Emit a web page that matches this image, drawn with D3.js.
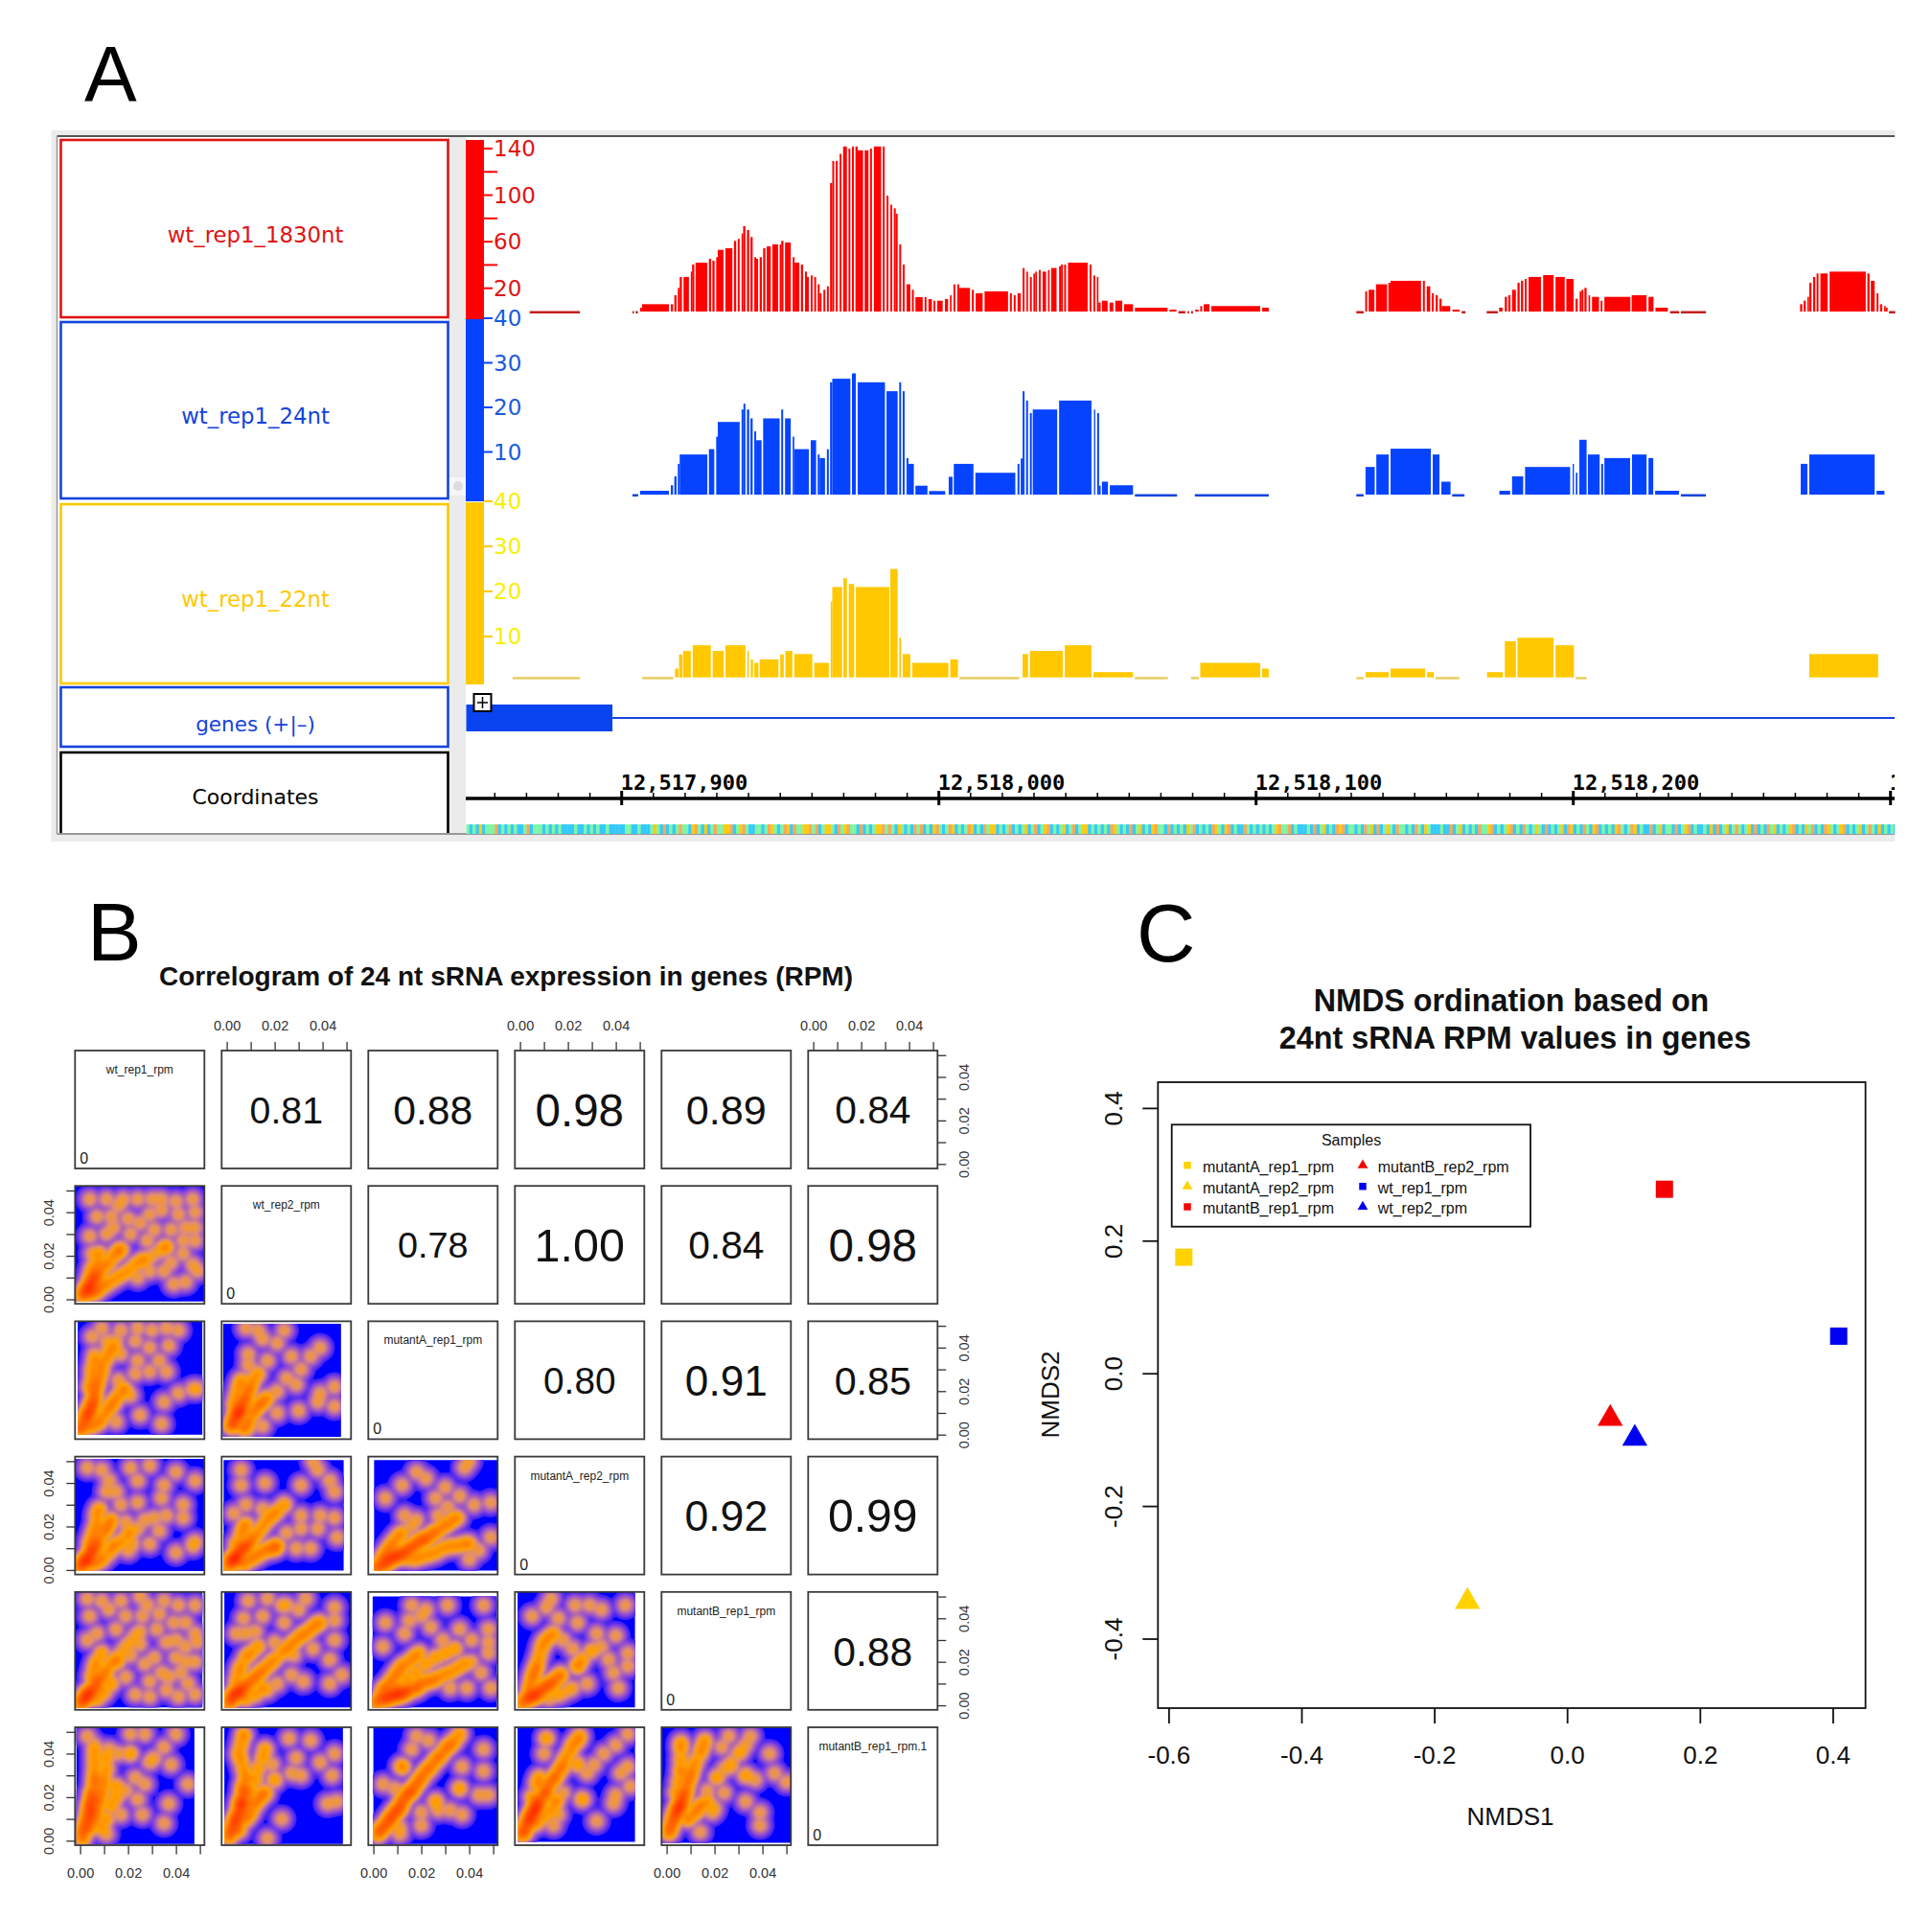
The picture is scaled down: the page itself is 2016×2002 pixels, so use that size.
<!DOCTYPE html>
<html><head><meta charset="utf-8">
<script src="https://cdn.jsdelivr.net/npm/d3@7"></script>
<style>html,body{margin:0;padding:0;background:#fff}svg{display:block}</style>
</head><body><svg id="c" width="2016" height="2002"></svg>
<script>
// ---------- Panel A: offsets are base pairs from 12,517,900 ; [start, end, value]
const genomeBase = 12517900;
const coordTicks = [12517900,12518000,12518100,12518200,12518300];
const redTicks = [140,120,100,80,60,40,20];
const redLabelled = [140,100,60,20];
const blueTicks = [40,30,20,10];
const yellowTicks = [40,30,20,10];
const trackNames = ["wt_rep1_1830nt","wt_rep1_24nt","wt_rep1_22nt","genes (+|–)","Coordinates"];
const redBars = [[-29,-13.2,0],[3.4,3.9,0],[4.4,5.1,0],[5.8,6.4,3.3],[6.4,14.9,6.3],[15.5,16.2,6.3],[16.6,17.3,14],[17.7,18.3,20.3],[18.3,19,29.7],[19.5,21.2,29.7],[21.8,22.2,34.3],[22.2,22.9,40.4],[23.3,27,42],[27.5,28.2,45.3],[28.6,29.3,43.7],[29.8,30.3,46.7],[30.3,32.1,53],[32.7,34.9,54.4],[35.4,36.1,60.7],[36.6,37.2,62.4],[37.8,38.3,67],[38.3,39,73.4],[39.5,40.2,70],[40.6,41.3,64],[41.8,42.4,46.7],[42.4,43,45.3],[43.5,44.2,46.7],[44.6,45.3,54.4],[45.7,47,56],[47.5,49.3,57.7],[49.8,50.3,57.7],[50.3,51,60.7],[51.5,53.3,59.3],[53.9,54.5,46.7],[54.5,56,42],[56.5,57.2,40.4],[57.8,58.4,34.3],[58.4,59,29.7],[59.6,60.2,31],[60.7,61.3,29.7],[61.8,62.4,23.4],[62.4,63,15.7],[63.6,64.2,18.7],[64.7,65.3,21.7],[65.7,66.4,110.4],[66.4,67,129.4],[67.5,68.1,129.4],[68.7,69.3,135.4],[69.8,71,141.8],[71.5,72.1,140],[72.6,73.2,141.8],[73.7,74.4,141.8],[74.4,76.1,138.5],[76.6,77.8,138.5],[78.3,78.9,140],[79.5,81.8,141.8],[82.3,82.9,141.8],[83.5,84.1,99.5],[84.7,85.3,91.8],[85.8,86.4,88.7],[86.4,87,84],[87.5,88.1,57.7],[88.6,89.2,40.4],[89.8,91,23.4],[91.5,92.1,18.7],[92.6,94.9,12.4],[95.5,96.1,12.4],[96.7,97.8,10.7],[98.3,98.9,9.3],[99.5,101.2,9.3],[101.9,102.9,10.7],[103.5,104,14],[104.6,105.2,23.4],[105.8,106.4,23.4],[106.4,109.8,20.3],[110.4,111,18.7],[111.6,113.8,15.7],[114.4,121.8,17.3],[122.4,123,15.7],[123.6,124.2,14],[124.8,125.8,15.7],[126.4,127,37.4],[127.6,128.1,34.3],[128.7,129.3,29.7],[129.8,130.3,32.7],[130.4,130.9,34.3],[131.5,132.1,35.7],[132.7,133.8,34.3],[134.4,134.9,35.7],[135.4,137.1,37.4],[137.9,138.5,39],[138.5,139.1,40.4],[139.5,140.1,40.4],[140.7,146.9,42],[147.5,148.1,40.4],[148.7,149.3,31],[149.8,150.3,29.7],[150.3,151,7.7],[151.4,153.2,9.3],[153.8,155,7.7],[155.6,157.8,9.3],[158.4,161.2,6.3],[161.8,172.1,3.3],[172.7,174.9,1.6],[175.5,177.7,0],[178.4,178.9,0],[179.5,180.1,0],[180.8,181.9,1.6],[182.4,183,4.7],[183.5,185.3,6.3],[185.9,201.3,4.7],[201.9,204,3.3],[231.6,233.9,0],[234.4,235,17.3],[235.5,237.3,18.7],[237.8,241.3,23.4],[241.7,242.4,24.7],[242.4,252,26.4],[252.6,253.2,26.4],[253.8,254.9,21.7],[255.4,256,15.7],[256.6,257.3,14],[257.8,258.5,11],[258.5,261.2,4.7],[261.9,264.2,1.6],[264.8,266,0],[272.7,276.2,0],[276.6,277.7,3.3],[278.4,279.1,12.6],[279.5,280.2,14],[280.7,281.9,18.7],[282.4,283.1,24.7],[283.5,284.2,26.4],[284.7,285.3,28],[285.9,289.8,29.7],[290.5,293.8,31.3],[294.4,297.3,29.7],[297.8,300.1,28],[300.7,301.4,11],[302,302.6,17.3],[302.6,303.2,18.7],[303.5,304.2,20.3],[304.8,305.3,14],[305.9,308.1,12.6],[308.6,309.2,9.3],[309.8,318,12.6],[318.4,323.1,14],[323.7,325.3,12.6],[325.9,329.8,3.3],[330.5,333.4,0],[333.9,341.8,0],[371.5,372.2,6.3],[372.6,373.3,9.3],[373.8,374.3,12.6],[374.4,375.1,24.7],[375.6,376.3,29.7],[376.7,377.3,32.7],[377.9,380.2,32.7],[380.8,392.2,34.3],[392.7,393.4,32.7],[393.8,395,26.4],[395.6,396.2,15.7],[396.7,397.4,6.3],[398,398.5,4.7],[398.5,399.1,3.3],[399.5,401.5,0]];
const blueBars = [[3.4,5.2,0],[5.8,14.9,0.86],[15.5,16.2,2.1],[16.6,17.3,4.1],[17.7,18.3,6.9],[18.3,27,9],[27.5,29.2,10.2],[29.8,30.3,13],[30.3,37.2,16.3],[37.8,38.4,19.1],[38.4,39,20.4],[39.5,40.2,19.1],[40.6,41.3,17.1],[41.8,42.4,14.2],[42.4,44.1,12.2],[44.6,49.8,17.1],[50.3,50.9,19.1],[51.5,53.3,17.1],[53.9,54.4,13],[54.4,59,10.2],[59.6,61.3,12.2],[61.8,62.4,9],[62.4,64.1,8.2],[64.7,65.3,10.2],[65.7,66.4,25.2],[66.4,72.1,26],[72.6,73.8,27.2],[74.4,83,25.2],[83.5,87,23.2],[87.5,88.1,25.2],[88.6,89.2,23.2],[89.8,90.4,8.2],[90.4,92.1,6.9],[92.6,96.4,2],[96.9,102,0.8],[103.1,104.3,4],[104.7,110.9,6.9],[111.5,124.1,4.9],[124.8,125.4,6.9],[125.8,126.4,8.1],[126.4,127,23.2],[127.5,128.1,21.1],[128.7,129.3,18.3],[129.6,137.3,19.1],[137.9,148.1,21.1],[148.9,149.3,19.1],[149.9,150.5,18.3],[150.5,151,2],[151.4,153.3,2.9],[153.9,161.2,2.1],[161.8,175.1,0],[180.7,204,0],[231.6,233.9,0],[234.5,237.4,6.2],[237.9,241.8,9],[242.4,255.1,10.3],[255.7,257.8,9],[258.4,261.3,2.9],[261.8,265.7,0],[276.7,280.1,0.86],[280.7,284.2,4.1],[284.8,299,6.2],[299.8,300.2,6.9],[300.8,301.3,4.9],[301.9,304.2,12.3],[304.6,308.3,9],[308.8,309.4,6.9],[309.8,317.9,8.2],[318.5,323.1,9],[323.7,325.2,8.2],[325.8,333.3,0.86],[333.9,341.8,0],[371.7,373.8,6.9],[374.4,395,9],[395.6,398.1,0.86]];
const yellowBars = [[-34.4,-13.1,0],[6.5,16.3,0],[16.8,17.9,2],[18.1,19.2,5.2],[19.4,21.8,6],[22.4,28.1,7.3],[28.7,32.2,6],[32.7,39,7.3],[39.6,40.1,6],[40.7,41.4,4.1],[41.8,43.1,3.3],[43.5,49.4,4.1],[50,51.1,5.2],[51.6,53.8,6],[54.4,60.1,5.3],[60.7,65.3,3.3],[65.9,66.4,17.2],[66.4,69.5,20.5],[69.9,71,22.5],[71.6,73.3,21.2],[73.8,84.4,20.5],[84.7,87,24.6],[87.5,88.1,9],[88.6,91,5.3],[91.6,103,3.3],[103.6,106,4.1],[106.5,125.4,0],[126.4,128.1,5.3],[128.7,139.1,6],[139.7,148.1,7.3],[148.7,161.2,1.2],[161.8,172.2,0],[179.5,182,0],[182.4,201.3,3.3],[201.9,204,2],[231.6,233.9,0],[234.5,241.8,1.2],[242.4,253.3,2],[253.9,256,1.2],[256.6,264.1,0],[272.8,277.8,1.2],[278.4,281.9,8.2],[282.4,293.8,9],[294.4,300.2,7.3],[300.8,304.2,0],[374.4,396.1,5.3]];
const geneExon = [-49,-2.9];
const seqRows = [
"gcgcycgggocgcgcgccgocgggcgcgcgccccgccgcgcgccgccccc",
"ggccgcccgygcocgcgoggcyogcycgoggyyocgyogccggcgoygcg",
"oycoggyyogocgyygcogyoggcocgcgyyogogcygcgcogocgcyog",
"cgoycgcgoycgcogyycgcgocgcgycgocgyocgcgycgocgyycgcg",
"cgcoygcgcocgycgcyoggcocgcgcygocgcgcoygcyocgccogcgc",
"gcgcgyoggocgcccgcocgycgcoyocggcgcogycocgygcoggcgco",
"gcygcccgccocgycgcgcoggyocgcgyocgcogcgygcocgcgycoyc",
"gcogcyocgcgcyogcgoycgccocgycggcocgyocgccgcycocgycg",
"ogcgycocgcogycgcgyocgcygocgcoygcgyocgcgycgogcycgcg",
"cgy"];
const seqColors = {c:"#35c9fb",g:"#7ff5a5",o:"#f9a855",y:"#fcca18"};

// ---------- Panel B : density points in RPM x 1000 as [x, y, weight]
const sampleNames = ["wt_rep1_rpm","wt_rep2_rpm","mutantA_rep1_rpm","mutantA_rep2_rpm","mutantB_rep1_rpm","mutantB_rep1_rpm.1"];
const corrValues = [[0,1,.81],[0,2,.88],[0,3,.98],[0,4,.89],[0,5,.84],[1,2,.78],[1,3,1.00],[1,4,.84],[1,5,.98],[2,3,.80],[2,4,.91],[2,5,.85],[3,4,.92],[3,5,.99],[4,5,.88]];
const cellTicks = [0,10,20,30,40,50];
const cellLabelled = [0,20,40];
const d21 = [[4,46],[11,46],[18,46],[24,46],[34,46],[47,46],[16,43],[7,38],[13,38],[34,41],[41,39],[48,33],[21,30],[25,35],[29,39],[4,29],[11,30],[31,32],[35,24],[43,27],[48,27],[47,16],[49,13],[5,21],[27,18],[35,13],[29,13],[24,10],[39,7],[44,8],[28,27],[38,32],[14,33],[20,37],[30,46],[40,45],[44,33],[38,17],[43,21],[48,40],
 [1,2,3],[2,3,4],[3,5,5],[4,6,5],[5,8,4],[6,10,3],[7,11,3],[8,13,2],[10,15,2],[12,17,2],[14,20,2],[16,22,2],[17,23,2],[5,3,3],[7,4,3],[9,6,2],[11,7,2],[14,9,2],[17,11,2],[20,13,2],[23,16,2],[26,18,2],[30,20,1],[33,22,1],[36,24,2],[4,10,2],[5,14,2],[7,17,2],[8,21,2]];
const d31 = [[9,49],[17,48],[24,49],[30,48],[36,49],[41,48],[5,45],[11,43],[23,43],[29,40],[37,41],[17,37],[24,34],[33,34],[36,29],[29,29],[16,25],[23,28],[19,20],[41,19],[47,21],[49,21],[35,15],[25,9],[34,5],[15,6],[21,18],
 [0,2,3],[1,4,4],[2,7,4],[3,9,5],[4,11,6],[5,14,6],[6,17,4],[6,20,3],[7,23,3],[8,26,2],[9,29,2],[9,32,2],[11,35,2],[12,38,2],[14,40,2],[15,43,1],[4,22,2],[5,26,2],[5,30,2],[6,34,2],[6,37,1],[5,4,3],[8,6,3],[10,9,2],[12,12,3],[14,15,3],[16,18,2],[18,21,2]];
const d32 = [[8,49],[13,48],[24,48],[15,44],[21,42],[39,40],[35,36],[27,36],[17,34],[9,37],[9,32],[31,30],[25,26],[29,23],[21,20],[39,19],[45,22],[38,15],[45,13],[30,11],[21,10],[15,4],[9,3],
 [2,4,4],[3,6,5],[4,9,6],[5,10,6],[6,12,6],[7,15,4],[8,17,3],[9,20,3],[10,22,2],[11,25,2],[13,28,2],[3,14,2],[4,18,2],[5,22,2],[6,25,2],[7,3,3],[9,6,3],[11,10,3],[13,13,3],[15,15,3],[17,17,2]];
const d41 = [[3,47],[9,46],[21,47],[29,48],[40,45],[48,41],[12,41],[24,41],[35,39],[34,33],[17,30],[24,31],[43,30],[43,24],[31,24],[36,25],[21,18],[33,18],[29,12],[22,12],[40,8],[47,11],[48,13],[15,36],[11,36],[19,22],[20,9],
 [0,1,3],[1,3,4],[2,4,5],[3,5,5],[4,7,5],[5,9,4],[6,10,3],[7,12,3],[8,14,2],[10,17,2],[11,19,2],[12,21,2],[13,23,2],[4,12,2],[5,15,2],[6,18,2],[7,21,2],[7,25,2],[8,28,2],[6,3,3],[9,5,3],[12,8,2],[14,11,3],[17,13,2],[20,16,2],[24,19,1],[27,23,1]];
const d42 = [[6,46],[6,39],[16,40],[31,39],[38,46],[36,50],[43,41],[45,36],[8,30],[15,28],[3,26],[31,25],[39,25],[45,24],[31,19],[38,19],[25,17],[46,15],[29,10],[35,10],[20,10],
 [1,2,3],[2,4,5],[3,5,6],[4,6,6],[5,8,5],[7,10,5],[8,11,4],[10,13,3],[11,15,2],[13,17,2],[15,20,2],[17,23,2],[19,25,2],[21,27,2],[24,30,2],[4,12,2],[6,16,2],[7,19,2],[8,21,2],[7,3,3],[10,5,3],[13,7,3],[16,9,3],[19,10,3],[21,11,3]];
const d43 = [[18,45],[22,42],[38,47],[40,50],[12,39],[30,38],[5,33],[26,33],[36,34],[31,29],[49,31],[42,30],[27,25],[13,25],[18,23],[49,15],[44,9],[40,5],[16,20],
 [1,1,3],[3,2,4],[5,3,5],[7,5,6],[9,6,6],[11,7,5],[13,8,5],[15,10,4],[17,11,4],[19,13,4],[21,14,4],[23,15,3],[25,17,3],[27,18,2],[29,20,2],[31,21,2],[33,23,2],[35,24,2],[4,6,3],[6,9,3],[8,12,3],[10,15,2],[12,17,2],[14,5,1],[17,5,2],[20,6,2],[23,7,2],[26,8,2],[29,10,2],[32,11,2],[35,11,2],[38,12,2],[40,12,2]];
const d51 = [[3,49],[9,48],[17,48],[25,50],[41,46],[48,46],[4,41],[12,44],[19,41],[33,42],[39,38],[48,33],[7,33],[15,35],[32,35],[3,30],[36,29],[44,27],[49,29],[21,23],[31,22],[40,22],[48,20],[19,13],[27,19],[29,11],[36,7],[45,10],[48,5],[23,5],[29,4],[41,4],[16,20],[28,46],[35,48],[44,38],[26,41],[40,30],[34,15],[42,15],[25,28],[37,13],[44,20],
 [0,0,2],[1,2,4],[2,3,5],[3,5,6],[4,6,5],[6,8,4],[7,10,3],[8,12,3],[10,14,2],[11,16,2],[13,19,2],[15,21,2],[17,24,1],[19,27,1],[21,29,1],[23,32,1],[25,34,1],[5,13,2],[6,17,2],[7,20,2],[9,24,2],[7,3,2],[10,6,2],[13,10,2]];
const d52 = [[9,48],[17,49],[23,46],[33,49],[45,45],[45,39],[7,40],[15,41],[24,38],[4,33],[8,33],[20,29],[45,30],[43,21],[48,14],[43,10],[28,23],[36,26],[32,11],[27,14],[21,10],[17,7],[12,34],[30,44],[25,46],
 [1,1,3],[2,3,5],[3,5,6],[5,6,6],[6,7,5],[8,9,4],[10,11,3],[12,13,3],[14,15,3],[16,17,2],[18,19,2],[20,21,2],[23,24,2],[25,26,2],[27,28,2],[29,30,2],[31,32,2],[33,33,2],[35,35,2],[37,37,2],[39,38,2],[4,11,2],[5,15,2],[6,18,2],[8,22,2],[10,24,2],[13,27,2],[8,3,2],[12,5,2],[15,8,2]];
const d53 = [[16,46],[22,44],[31,46],[46,46],[5,38],[15,39],[20,41],[36,35],[48,35],[13,33],[29,30],[48,29],[41,30],[48,24],[45,15],[49,8],[32,8],[39,8],[4,27],[24,36],
 [1,1,3],[3,3,4],[5,3,5],[7,4,6],[9,5,6],[11,5,6],[13,6,5],[15,7,4],[18,8,4],[20,10,3],[23,11,3],[26,12,3],[29,14,2],[32,15,2],[35,17,2],[38,19,2],[41,20,1],[4,7,3],[6,9,3],[8,12,3],[10,15,3],[12,18,3],[15,20,2],[17,22,2],[19,24,2],[10,8,2],[14,12,2],[18,15,2],[22,19,2],[26,22,2],[30,24,2],[34,26,2]];
const d54 = [[13,49],[5,41],[23,46],[29,46],[34,44],[44,46],[40,32],[22,26],[34,27],[45,24],[45,18],[39,15],[41,8],[37,21],[28,10],[22,8],[15,5],[18,30],[24,38],[16,40],[11,45],[32,33],
 [1,1,3],[3,3,5],[5,4,6],[7,5,6],[9,7,5],[11,9,4],[13,10,4],[15,12,3],[17,14,3],[4,8,3],[5,12,3],[6,15,3],[7,18,3],[8,22,2],[9,26,2],[10,29,2],[12,31,2],[14,33,2],[26,21,2],[24,18,3],[30,25,2],[12,3,1],[17,5,1],[20,7,1]];
const d61 = [[6,44],[3,48],[21,49],[27,49],[21,40,2],[29,36],[38,35],[40,49],[35,43],[31,38],[16,40],[27,26],[19,23],[24,19],[45,26],[37,17],[35,8],[26,12],[11,3],[23,29],[17,12],
 [1,1,3],[1,4,4],[2,7,4],[3,10,5],[4,13,6],[4,16,6],[5,19,5],[5,22,4],[6,26,3],[6,29,3],[6,33,2],[6,37,2],[6,41,2],[4,6,3],[6,10,3],[7,14,3],[8,18,3],[9,22,3],[10,26,2],[10,29,2],[11,33,2],[11,38,2],[12,42,1],[9,6,2],[11,10,2],[13,16,2],[15,20,2],[15,25,2]];
const d62 = [[7,49],[26,47],[35,46],[45,40],[39,36],[44,30],[31,30],[20,28,2],[27,31],[19,35],[29,38],[42,17],[46,18],[17,1],[23,10],
 [1,2,4],[2,5,5],[3,8,5],[4,10,6],[5,13,6],[6,16,6],[6,18,6],[7,22,5],[7,25,3],[8,29,3],[7,33,2],[6,37,2],[5,40,2],[6,44,2],[7,48,2],[5,5,3],[8,10,3],[10,13,3],[12,17,3],[14,20,3],[16,22,3],[9,18,2],[10,23,2],[12,28,2],[13,33,2],[15,38,2],[16,42,2]];
const d63 = [[18,48],[23,46],[16,42],[46,42],[37,34],[46,32],[36,24,2],[48,21],[44,21],[26,18,2],[12,34,3],[4,26],[9,24],[20,13],[20,7],[27,14],[32,14],[37,12],[11,3],[11,6],
 [2,3,3],[3,5,4],[5,7,5],[7,10,7],[9,13,6],[11,15,5],[12,18,5],[14,21,5],[16,23,5],[18,26,4],[20,29,4],[22,32,3],[24,34,3],[26,37,3],[28,39,3],[30,42,3],[32,44,3],[34,46,2],[36,49,2]];
const d64 = [[11,47,2],[10,40],[28,31],[40,44],[35,40],[45,49],[31,35],[42,31],[46,25],[40,21],[39,17],[32,9],[26,19,2],[24,35,2],[16,12],[14,7],[45,34],
 [1,3,4],[2,5,5],[3,8,5],[4,10,6],[5,12,6],[6,14,7],[7,16,6],[8,18,5],[10,21,4],[11,23,4],[12,26,3],[14,28,3],[15,30,3],[17,33,3],[18,35,2],[19,38,2],[21,41,2],[22,44,2],[24,46,2],[25,48,2],[7,8,2],[10,11,2],[13,14,2],[15,18,3],[18,22,1],[5,20,2],[7,26,2],[8,29,2]];
const d65 = [[26,48],[35,48],[43,40],[31,41],[23,43],[45,31],[50,27],[33,30,2],[24,22],[17,23],[37,28],[39,13],[39,7],[33,18],[19,13],[14,4],[27,34],
 [1,4,4],[2,7,4],[3,10,5],[4,13,6],[5,15,6],[6,17,7],[7,20,5],[8,23,4],[9,27,3],[10,30,3],[11,33,2],[12,36,2],[14,40,2],[15,43,2],[16,46,2],[4,22,2],[5,27,2],[6,32,3],[6,37,2],[6,42,2],[6,45,2],[9,10,3],[12,13,3],[14,16,3],[17,18,2],[20,15,1],[21,29,2],[24,33,1],[27,36,1],[30,40,1],[33,44,1]];
const densityPanels = [
 {r:1,c:0,pts:d21,ext:[-2,52,-1,52]},{r:2,c:0,pts:d31,ext:[-1,51,0,52]},{r:2,c:1,pts:d32,ext:[-1.5,47.7,-1,51]},
 {r:3,c:0,pts:d41,ext:[-2,52,-.5,51]},{r:3,c:1,pts:d42,ext:[-1.3,48.8,-.3,50.5]},{r:3,c:2,pts:d43,ext:[.3,52,-.3,50.5]},
 {r:4,c:0,pts:d51,ext:[-2,51,-1,52]},{r:4,c:1,pts:d52,ext:[-1,52,-1,52]},{r:4,c:2,pts:d53,ext:[-.3,51.5,-1,50]},{r:4,c:3,pts:d54,ext:[-1,48,-1,52]},
 {r:5,c:0,pts:d61,ext:[-1.5,47.7,-1.5,52]},{r:5,c:1,pts:d62,ext:[-1,48.5,-1.5,52]},{r:5,c:2,pts:d63,ext:[0,52,-1.5,52]},{r:5,c:3,pts:d64,ext:[-1,48,-.5,52]},{r:5,c:4,pts:d65,ext:[-2,52,-1,52]}];

// ---------- Panel C
const nmdsNames = ["mutantA_rep1_rpm","mutantA_rep2_rpm","mutantB_rep1_rpm","mutantB_rep2_rpm","wt_rep1_rpm","wt_rep2_rpm"];
const nmds1 = [-0.577,-0.15,0.1466,0.065,0.409,0.102];
const nmds2 = [0.175,-0.34,0.2775,-0.064,0.056,-0.094];
const nmdsColors = ["#ffd200","#ffd200","#f40000","#f40000","#0000f0","#0000f0"];
const nmdsShapes = ["square","triangle","square","triangle","square","triangle"];
const nmdsXTicks = [-0.6,-0.4,-0.2,0,0.2,0.4];
const nmdsYTicks = [-0.4,-0.2,0,0.2,0.4];

const svg = d3.select("#c");
const HELV = "'Liberation Sans',Arial,sans-serif", DJ = "'DejaVu Sans',sans-serif";
const defs = svg.append("defs");
function label(g,t,x,y,size,opt={}){
  const e=g.append("text").attr("x",x).attr("y",y).attr("font-size",size).attr("font-family",opt.font||HELV)
   .attr("text-anchor",opt.anchor||"middle").attr("fill",opt.fill||"#111").text(t);
  if(opt.bold) e.attr("font-weight","bold");
  if(opt.rot) e.attr("transform",`rotate(-90 ${x} ${y})`);
  return e;
}
label(svg,"A",88,105,82,{anchor:"start",fill:"#000"});
label(svg,"B",91,1002,85,{anchor:"start",fill:"#000"});
label(svg,"C",1186,1003,85,{anchor:"start",fill:"#000"});

// ========= PANEL A =========
const A = svg.append("g");
A.append("rect").attr("x",53.5).attr("y",136).attr("width",1923.5).attr("height",742).attr("fill","#ececec");
A.append("rect").attr("x",59.5).attr("y",142).attr("width",1917.5).attr("height",728).attr("fill","#fff");
A.append("rect").attr("x",468).attr("y",143).attr("width",18).attr("height",727).attr("fill","#ebebeb");
A.append("line").attr("x1",59.5).attr("x2",1977).attr("y1",142).attr("y2",142).attr("stroke","#555").attr("stroke-width",2);
A.append("line").attr("x1",59.5).attr("x2",59.5).attr("y1",142).attr("y2",870).attr("stroke","#999").attr("stroke-width",1.5);
A.append("rect").attr("x",468).attr("y",498).attr("width",18).attr("height",19).attr("fill","#f6f6f6");
A.append("circle").attr("cx",478).attr("cy",507).attr("r",5).attr("fill","#dcdcdc");

const trackBoxes = [
 {y0:146,y1:331,col:"#e01212",ty:253,fs:22.8},{y0:336,y1:520,col:"#1443dc",ty:442,fs:22.8},{y0:526,y1:713,col:"#ffc800",ty:633,fs:22.8},
 {y0:717,y1:779,col:"#1443dc",ty:763,fs:21.5},{y0:785,y1:880,col:"#000",ty:839,fs:22}];
trackBoxes.forEach((b,i)=>{
  A.append("rect").attr("x",63.5).attr("y",b.y0).attr("width",404).attr("height",b.y1-b.y0).attr("fill","#fff").attr("stroke",b.col).attr("stroke-width",2.6);
  label(A,trackNames[i],266.5,b.ty,b.fs,{font:DJ,fill:b.col});
});
A.append("rect").attr("x",53.5).attr("y",871).attr("width",1923.5).attr("height",7).attr("fill","#ececec");
A.append("rect").attr("x",53.5).attr("y",878).attr("width",420).attr("height",4).attr("fill","#fff");
A.append("line").attr("x1",59.5).attr("x2",1977).attr("y1",870).attr("y2",870).attr("stroke","#999").attr("stroke-width",2);

const xG = d3.scaleLinear().domain([genomeBase-49,genomeBase+401.5]).range([648.7-49*3.31,648.7+401.5*3.31]);
const xOff = o=>xG(genomeBase+o);
function drawTrack(bars,barY,axisY,col,dashCol,labCol,ticks,labelled,barTop,barBot){
  A.append("rect").attr("x",486).attr("y",barTop).attr("width",19).attr("height",barBot-barTop).attr("fill",col);
  ticks.forEach(v=>{
    const lab = labelled.includes(v);
    A.append("line").attr("x1",505).attr("x2",lab?514:519).attr("y1",axisY(v)).attr("y2",axisY(v)).attr("stroke",col).attr("stroke-width",2);
    if(lab) label(A,v,515,axisY(v)+8,23,{font:DJ,anchor:"start",fill:labCol});
  });
  A.append("g").selectAll("rect").data(bars).join("rect")
    .attr("x",d=>xOff(d[0])).attr("width",d=>xOff(d[1])-xOff(d[0]))
    .attr("y",d=>d[2]>0?barY(d[2]):barY(0)-.5)
    .attr("height",d=>d[2]>0?barY(0)-barY(d[2]):2.5)
    .attr("fill",d=>d[2]>0?col:dashCol);
}
drawTrack(redBars,d3.scaleLinear().domain([0,140]).range([325,155]),d3.scaleLinear().domain([0,140]).range([325,155]),"#ff0000","#c21f1f","#e01212",redTicks,redLabelled,146,333);
drawTrack(blueBars,d3.scaleLinear().domain([0,40]).range([516,330]),d3.scaleLinear().domain([0,40]).range([518,332]),"#0543ff","#1443dc","#1a5adc",blueTicks,blueTicks,333,523);
drawTrack(yellowBars,d3.scaleLinear().domain([0,40]).range([706.7,522.7]),d3.scaleLinear().domain([0,40]).range([711,523]),"#ffc800","#e8cf60","#f6f000",yellowTicks,yellowTicks,524,714);

A.append("line").attr("x1",xOff(geneExon[1])).attr("x2",1977).attr("y1",749).attr("y2",749).attr("stroke","#1443e6").attr("stroke-width",2);
A.append("rect").attr("x",xOff(geneExon[0])).attr("width",xOff(geneExon[1])-xOff(geneExon[0])).attr("y",735).attr("height",28).attr("fill","#0a43f0");
A.append("rect").attr("x",494.5).attr("y",724).attr("width",18).attr("height",18).attr("fill","#fff").attr("stroke","#000").attr("stroke-width",2);
A.append("path").attr("d","M498,733H509M503.5,727V739").attr("stroke","#000").attr("stroke-width",1.5);

defs.append("clipPath").attr("id","clipA").append("rect").attr("x",486).attr("y",136).attr("width",1491).attr("height",740);
const coord = A.append("g").attr("clip-path","url(#clipA)");
coord.append("line").attr("x1",486).attr("x2",1977).attr("y1",833).attr("y2",833).attr("stroke","#000").attr("stroke-width",3.5);
d3.range(genomeBase-40,genomeBase+401,10).forEach(v=>{
  if((v-genomeBase)%100!==0) coord.append("line").attr("x1",xG(v)).attr("x2",xG(v)).attr("y1",827).attr("y2",833).attr("stroke","#000").attr("stroke-width",1.5);
});
coordTicks.forEach(v=>{
  coord.append("line").attr("x1",xG(v)).attr("x2",xG(v)).attr("y1",825).attr("y2",840).attr("stroke","#000").attr("stroke-width",3);
  label(coord,d3.format(",")(v),xG(v)-1,824,22,{font:"'DejaVu Sans Mono',monospace",anchor:"start",bold:true,fill:"#000"});
});
const seq = seqRows.join("").split("");
coord.append("g").selectAll("rect").data(seq).join("rect")
  .attr("x",(d,i)=>xOff(i-49)).attr("width",(d,i)=>xOff(i-48)-xOff(i-49)+.3).attr("y",860).attr("height",10).attr("fill",d=>seqColors[d]);

// ========= PANEL B =========
const B = svg.append("g");
label(B,"Correlogram of 24 nt sRNA expression in genes (RPM)",528,1028,28,{bold:true,fill:"#111"});
const cellW=135, cellH=123;
const colX = d3.scaleLinear().domain([0,5]).range([78.3,843.3]);
const rowY = d3.scaleLinear().domain([0,5]).range([1096,1802]);
const cx = d3.scaleLinear().domain([-2.12,51.88]).range([0,cellW]);
const cy = d3.scaleLinear().domain([-2.07,52.1]).range([cellH,0]);
const ramp = d3.scaleLinear().domain([0,.2,.38,.5,1]).range(["#0000ff","#8a48dc","#e08c78","#ffa000","#ff0000"]).interpolate(d3.interpolateRgb);
const res=1.5, nx=Math.ceil(cellW/res), ny=Math.ceil(cellH/res), sigma=4.3;
const levels = d3.range(0.09,1.001,0.018);
const contourGen = d3.contours().size([nx,ny]).thresholds(levels);
const pathGen = d3.geoPath();
densityPanels.forEach((p,k)=>{
  const g = B.append("g").attr("transform",`translate(${colX(p.c)},${rowY(p.r)})`);
  const id="dclip"+k;
  const e=p.ext;
  const ex0=Math.max(0,cx(e[0])),ex1=Math.min(cellW,cx(e[1])),ey0=Math.max(0,cy(e[3])),ey1=Math.min(cellH,cy(e[2]));
  defs.append("clipPath").attr("id",id).append("rect").attr("x",ex0).attr("y",ey0).attr("width",ex1-ex0).attr("height",ey1-ey0);
  const inner = g.append("g").attr("clip-path",`url(#${id})`);
  inner.append("rect").attr("width",cellW).attr("height",cellH).attr("fill","#0000ff");
  const vals = new Float64Array(nx*ny);
  p.pts.forEach(pt=>{
    const px=cx(pt[0]),py=cy(pt[1]),w=pt.length>2?pt[2]:1;
    for(let j=0;j<ny;j++){for(let i=0;i<nx;i++){
      const dx=(i+.5)*res-px,dy=(j+.5)*res-py;
      vals[j*nx+i]+=w*Math.exp(-(dx*dx+dy*dy)/(2*sigma*sigma));
    }}
  });
  const tv = Array.from(vals,d=>Math.min(1,Math.pow(d/25,.25)));
  inner.append("g").attr("transform",`scale(${res})`).selectAll("path").data(contourGen(tv)).join("path")
    .attr("d",pathGen).attr("fill",d=>ramp(d.value)).attr("stroke","none");
});
for(let r=0;r<6;r++)for(let c=0;c<6;c++){
  const g = B.append("g").attr("transform",`translate(${colX(c)},${rowY(r)})`);
  g.append("rect").attr("width",cellW).attr("height",cellH).attr("fill","none").attr("stroke","#3a3a3a").attr("stroke-width",1.8);
  if(r===c){
    label(g,sampleNames[r],cellW/2,24,12,{fill:"#222"});
    label(g,"0",9.5,cellH-5,16,{fill:"#222"});
  }
}
corrValues.forEach(d=>{
  const g = B.append("g").attr("transform",`translate(${colX(d[1])},${rowY(d[0])})`);
  const fs = 48.5*d[2];
  label(g,d[2].toFixed(2),cellW/2,cellH/2+fs*.358,fs,{fill:"#111"});
});
const tf = v=>cellLabelled.includes(v)?(v/1000).toFixed(2):"";
function styleAxis(a){a.select(".domain").remove();a.selectAll("line").attr("stroke","#333").attr("stroke-width",1.3);
  a.attr("font-family",HELV).attr("font-size",14.5);a.selectAll("text").attr("fill","#333");}
[1,3,5].forEach(c=>{
  const a=B.append("g").attr("transform",`translate(${colX(c)},${rowY(0)})`)
   .call(d3.axisTop(cx).tickValues(cellTicks).tickFormat(tf).tickSize(9));
  styleAxis(a); a.selectAll("text").attr("y",-21).attr("dy",0);
});
[0,2,4].forEach(c=>{
  const a=B.append("g").attr("transform",`translate(${colX(c)},${rowY(5)+cellH})`)
   .call(d3.axisBottom(cx).tickValues(cellTicks).tickFormat(tf).tickSize(9.5));
  styleAxis(a); a.selectAll("text").attr("y",33.5).attr("dy",0);
});
[1,3,5].forEach(r=>{
  const a=B.append("g").attr("transform",`translate(${colX(0)},${rowY(r)})`)
   .call(d3.axisLeft(cy).tickValues(cellTicks).tickFormat(tf).tickSize(9));
  styleAxis(a); a.selectAll("text").attr("x",0).attr("y",0).attr("dy",0).attr("text-anchor","middle").attr("transform","translate(-22,0) rotate(-90)");
});
[0,2,4].forEach(r=>{
  const a=B.append("g").attr("transform",`translate(${colX(5)+cellW},${rowY(r)})`)
   .call(d3.axisRight(cy).tickValues(cellTicks).tickFormat(tf).tickSize(9));
  styleAxis(a); a.selectAll("text").attr("x",0).attr("y",0).attr("dy",0).attr("text-anchor","middle").attr("transform","translate(33,0) rotate(-90)");
});

// ========= PANEL C =========
const C = svg.append("g");
label(C,"NMDS ordination based on",1577,1055,32.3,{bold:true,fill:"#111"});
label(C,"24nt sRNA RPM values in genes",1581,1094,32.3,{bold:true,fill:"#111"});
const nx1 = d3.scaleLinear().domain([-0.6,0.4]).range([1219.4,1912.4]);
const ny1 = d3.scaleLinear().domain([-0.4,0.4]).range([1709.5,1155.9]);
C.append("rect").attr("x",1208.3).attr("y",1129).attr("width",738.3).attr("height",653).attr("fill","none").attr("stroke","#111").attr("stroke-width",1.8);
const ax = C.append("g").attr("transform","translate(0,1782)").call(d3.axisBottom(nx1).tickValues(nmdsXTicks).tickFormat(d3.format(".1f")).tickSize(16));
ax.select(".domain").remove();ax.selectAll("line").attr("stroke","#111").attr("stroke-width",1.8);
ax.attr("font-family",HELV).attr("font-size",26);ax.selectAll("text").attr("fill","#111").attr("y",58).attr("dy",0).text(d=>d3.format(".1f")(d).replace("−","-"));
const ay = C.append("g").attr("transform","translate(1208.3,0)").call(d3.axisLeft(ny1).tickValues(nmdsYTicks).tickFormat(d3.format(".1f")).tickSize(16));
ay.select(".domain").remove();ay.selectAll("line").attr("stroke","#111").attr("stroke-width",1.8);
ay.attr("font-family",HELV).attr("font-size",26);ay.selectAll("text").attr("fill","#111").attr("x",0).attr("y",0).attr("dy",0).attr("text-anchor","middle")
  .attr("transform","translate(-37,0) rotate(-90)").text(d=>d3.format(".1f")(d).replace("−","-"));
label(C,"NMDS1",1576,1904,26,{fill:"#111"});
label(C,"NMDS2",1105,1455,26,{rot:true,fill:"#111"});
function symbol(g,shape,x,y,size,col){
  const type = shape==="square"?d3.symbolSquare:d3.symbolTriangle;
  g.append("path").attr("d",d3.symbol().type(type).size(size)()).attr("transform",`translate(${x},${y})`).attr("fill",col);
}
nmds1.forEach((v,i)=>symbol(C,nmdsShapes[i],nx1(v),ny1(nmds2[i])+(nmdsShapes[i]==="square"?0:3),nmdsShapes[i]==="square"?324:300,nmdsColors[i]));
C.append("rect").attr("x",1222.7).attr("y",1173.3).attr("width",374.3).attr("height",106.4).attr("fill","#fff").attr("stroke","#111").attr("stroke-width",1.8);
label(C,"Samples",1410,1195,16,{fill:"#111"});
const legX=[1239,1422], legT=[1255,1437.7], legY=[1216.7,1238.7,1260];
nmdsNames.forEach((n,i)=>{
  const col=Math.floor(i/3), row=i%3;
  symbol(C,nmdsShapes[i],legX[col],legY[row]-1,nmdsShapes[i]==="square"?56:50,nmdsColors[i]);
  label(C,n,legT[col],legY[row]+6,16,{anchor:"start",fill:"#111"});
});
</script></body></html>
